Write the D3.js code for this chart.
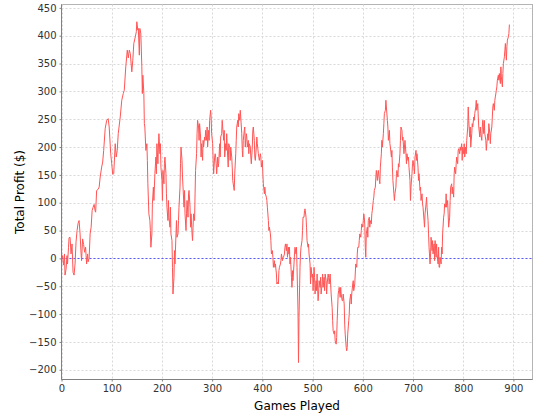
<!DOCTYPE html>
<html><head><meta charset="utf-8">
<script src="https://cdn.jsdelivr.net/npm/d3@7"></script>
<style>body{margin:0;background:#fff;} svg{display:block;} text{font-family:"DejaVu Sans",sans-serif;}</style>
</head><body><svg id="c" width="540" height="420"></svg>
<script>
const games = [0,2,4,6,7,9,11,12,14,15,17,19,21,23,25,27,29,31,33,35,37,39,40,42,44,46,48,49,50,52,53,55,57,59,61,63,65,67,68,70,73,75,77,80,82,84,87,90,93,95,98,100,102,104,107,109,111,113,117,120,123,125,128,131,133,135,137,140,142,144,147,149,150,
152,153,155,156,158,160,161,162,164,165,166,168,170,171,172,174,176,177,178,180,181,183,184,186,188,189,190,192,193,194,196,197,198,200,201,202,204,205,206,208,209,210,212,213,214,216,217,218,220,221,222,224,225,226,228,229,230,232,233,234,236,237,238,240,241,242,244,245,246,248,249,250,252,253,254,256,257,258,260,261,262,263,265,266,267,269,270,271,273,274,275,277,278,279,281,282,283,285,286,287,289,290,291,293,294,295,297,298,299,301,302,303,305,306,
307,308,309,311,312,313,315,316,317,319,320,321,323,324,325,327,328,329,331,332,333,335,336,337,339,340,341,343,344,345,347,348,349,351,352,353,355,356,357,359,360,361,362,364,365,366,368,369,370,372,373,374,376,377,378,380,381,382,384,385,386,388,389,390,392,393,394,396,397,398,400,401,402,404,405,406,408,409,410,412,413,414,416,417,418,420,421,422,424,425,426,428,429,430,432,433,434,436,437,438,440,441,442,444,445,446,448,449,450,452,453,454,
455,456,458,459,460,461,463,464,465,467,468,469,471,472,473,475,476,477,479,480,481,483,484,485,487,488,489,491,492,493,495,496,497,499,500,501,503,504,505,507,508,509,511,512,513,515,516,517,519,520,521,523,524,525,527,528,529,531,532,533,535,536,537,539,540,541,543,544,545,547,548,549,551,552,553,555,556,557,559,560,561,563,564,565,567,568,569,570,572,573,574,576,577,578,580,581,582,584,585,586,588,589,590,592,593,594,596,597,598,600,601,602,603,
604,605,606,607,609,610,611,613,614,615,617,618,619,621,622,623,625,626,627,629,630,631,633,634,635,637,638,639,641,642,643,645,646,647,649,650,651,653,654,655,657,658,659,660,662,663,664,666,667,668,670,671,672,674,675,676,678,679,680,682,683,684,686,687,688,690,691,692,694,695,696,698,699,700,702,703,704,706,707,708,710,711,712,714,715,716,718,719,720,722,723,724,726,727,728,730,731,732,734,735,736,738,739,740,742,743,744,746,747,748,750,751,752,
753,754,756,757,758,759,761,762,763,765,766,767,769,770,771,773,774,775,777,778,779,781,782,783,785,786,787,789,790,791,793,794,795,797,798,799,801,802,803,805,806,807,809,810,811,813,814,815,817,818,819,821,822,823,825,826,827,829,830,831,833,834,835,837,838,839,841,842,843,845,846,847,849,850,851,853,854,855,857,858,859,860,862,863,864,866,867,868,870,871,872,874,875,876,878,879,880,882,883,884,886,887,888,890,891,892];
const profit = [0,5,-12,8,-30,-20,5,-10,20,37,38,8,26,-25,-30,-10,30,50,63,68,44,8,-4,35,25,11,20,5,-10,8,-6,0,44,56,86,92,97,85,83,122,124,128,146,164,173,194,233,248,251,236,188,170,151,152,206,182,194,224,254,284,296,302,344,374,360,374,368,335,356,386,398,407,425,
410,413,365,413,404,344,296,329,296,242,236,194,206,176,134,80,68,50,20,44,98,128,104,152,182,152,206,170,200,224,188,206,164,140,104,158,134,170,182,152,116,92,68,104,74,56,92,44,32,-16,-64,-34,14,-10,44,68,38,44,68,92,128,170,200,176,146,128,92,122,80,50,80,104,74,116,122,92,56,80,44,32,56,80,68,116,158,188,224,248,236,212,242,218,182,206,176,212,200,218,212,230,212,236,200,230,212,248,266,254,224,206,176,152,182,188,
182,170,152,182,164,170,206,182,218,224,248,236,212,230,182,206,194,224,182,164,206,200,176,200,182,164,140,128,122,152,188,212,236,248,236,260,248,266,254,224,194,182,212,230,236,200,224,218,200,212,188,206,200,182,170,200,230,236,212,182,176,200,218,206,188,182,176,188,182,164,176,152,134,116,128,116,110,104,92,68,50,56,44,32,8,14,2,-16,-4,-16,-10,-28,-46,-43,-46,-22,-16,-10,-4,8,-4,2,2,8,20,26,14,26,2,20,8,20,
-10,2,-34,-52,-22,-40,-10,8,20,8,20,-16,-94,-187,-106,-16,8,20,32,50,74,74,86,89,74,56,32,20,26,8,-10,-46,-16,-34,-28,-58,-16,-34,-64,-40,-58,-28,-76,-64,-40,-52,-34,-64,-46,-28,-52,-34,-58,-28,-40,-64,-46,-28,-34,-46,-28,-46,-64,-88,-112,-130,-136,-130,-148,-154,-142,-112,-64,-58,-52,-70,-52,-64,-76,-76,-64,-82,-118,-136,-160,-166,-160,-136,-112,-100,-76,-64,-82,-64,-46,-40,-58,-46,-28,-10,-16,8,20,20,32,44,38,50,62,56,68,80,74,
60,20,2,44,56,38,68,74,56,68,62,80,86,104,110,122,128,146,158,140,152,158,140,134,164,188,212,200,224,242,260,266,284,272,248,236,212,230,206,200,182,194,164,140,116,104,116,128,152,158,146,170,164,188,212,236,230,212,218,188,200,212,188,170,188,176,182,164,140,104,128,152,170,176,164,152,182,194,176,188,164,140,152,122,128,104,116,98,92,68,56,80,98,110,92,68,44,20,-10,8,38,14,32,8,26,-4,32,2,26,8,-10,20,-16,
-16,2,-10,20,8,44,74,80,98,92,116,92,104,80,56,74,104,128,134,116,128,110,152,164,152,170,182,170,194,197,188,200,194,206,176,200,188,206,182,200,188,212,236,272,248,218,236,200,224,242,236,254,248,260,272,284,266,278,254,236,218,236,224,212,236,248,224,248,224,212,194,206,224,212,242,224,206,224,236,254,272,278,266,284,290,302,308,320,329,320,332,314,344,326,308,332,350,362,374,386,356,380,392,398,404,420];
const xTicks = [0,100,200,300,400,500,600,700,800,900];
const yTicks = [-200,-150,-100,-50,0,50,100,150,200,250,300,350,400,450];
const xLabel = "Games Played";
const yLabel = "Total Profit ($)";

const svg = d3.select("#c");
const L = 61.5, R = 532.5, T = 4.5, B = 379.5;
const x = d3.scaleLinear().domain([0, 938]).range([L, R]);
const y = d3.scaleLinear().domain([-217.5, 456]).range([B, T]);

svg.append("rect").attr("x", L).attr("y", T).attr("width", R - L).attr("height", B - T)
  .attr("fill", "#fff").attr("stroke", "#b4b4b4").attr("stroke-width", 1);

const g = svg.append("g");
g.selectAll(".vg").data(xTicks).join("line")
  .attr("x1", d => Math.round(x(d)) + 0.5).attr("x2", d => Math.round(x(d)) + 0.5)
  .attr("y1", T).attr("y2", B).attr("stroke", "#d8d8d8").attr("stroke-dasharray", "2,2");
g.selectAll(".hg").data(yTicks).join("line")
  .attr("y1", d => Math.round(y(d)) + 0.5).attr("y2", d => Math.round(y(d)) + 0.5)
  .attr("x1", L).attr("x2", R).attr("stroke", "#d8d8d8").attr("stroke-dasharray", "2,2");

// zero line
svg.append("line").attr("x1", L).attr("x2", R)
  .attr("y1", Math.round(y(0)) + 0.5).attr("y2", Math.round(y(0)) + 0.5)
  .attr("stroke", "#5a5aff").attr("stroke-width", 1).attr("stroke-dasharray", "2,2");

const pts = games.map((gm, i) => [gm, profit[i]]);
svg.append("path").datum(pts)
  .attr("fill", "none").attr("stroke", "#ff5555").attr("stroke-width", 1)
  .attr("d", d3.line().x(d => x(d[0])).y(d => y(d[1])));

// axes
const xAxis = d3.axisBottom(x).tickValues(xTicks).tickSize(2).tickPadding(3).tickFormat(d3.format("d"));
const yAxis = d3.axisLeft(y).tickValues(yTicks).tickSize(2).tickPadding(3).tickFormat(d3.format("d"));
const gx = svg.append("g").attr("transform", `translate(0,${B})`).call(xAxis);
const gy = svg.append("g").attr("transform", `translate(${L},0)`).call(yAxis);
[gx, gy].forEach(a => {
  a.select(".domain").attr("stroke", "#808080");
  a.selectAll(".tick line").attr("stroke", "#808080");
  a.selectAll(".tick text").attr("fill", "#333").attr("font-size", "10px").attr("font-family", "DejaVu Sans, sans-serif");
});
gy.select(".domain").attr("d", `M0,${T}V${B}`);
gx.select(".domain").attr("d", `M${L},0H${R}`);

svg.append("text").attr("x", (L + R) / 2).attr("y", 410).attr("text-anchor", "middle")
  .attr("font-size", "12px").attr("fill", "#000").text(xLabel);
svg.append("text").attr("transform", `translate(24,${(T + B) / 2}) rotate(-90)`).attr("text-anchor", "middle")
  .attr("font-size", "12px").attr("fill", "#000").text(yLabel);
</script></body></html>
